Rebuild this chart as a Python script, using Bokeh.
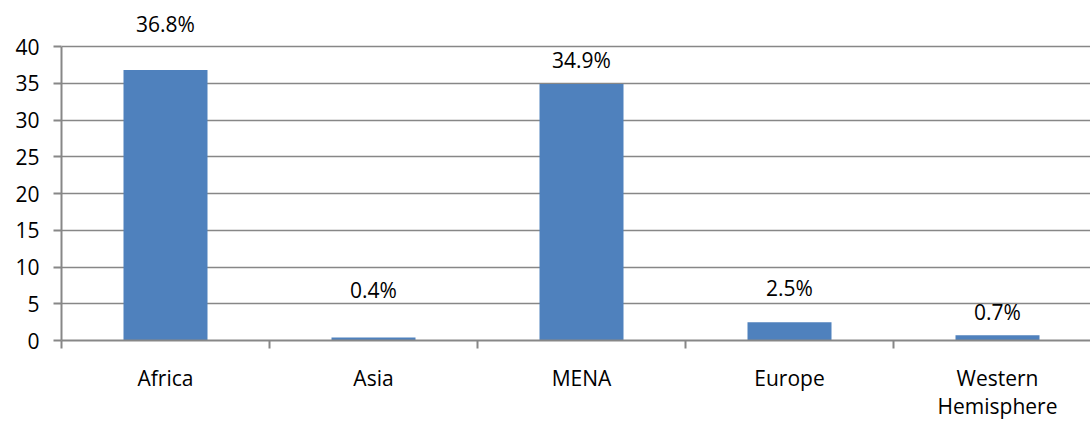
from bokeh.plotting import figure
from bokeh.models import Range1d, FixedTicker, ColumnDataSource
from bokeh.core.properties import value
from bokeh.embed import file_html
from bokeh.resources import INLINE

categories = ["Africa", "Asia", "MENA", "Europe", "Western\nHemisphere"]
values = [36.8, 0.4, 34.9, 2.5, 0.7]
labels = ["36.8%", "0.4%", "34.9%", "2.5%", "0.7%"]
label_y = [43.0, 6.9, 38.1, 7.2, 3.9]
y_ticks = [0, 5, 10, 15, 20, 25, 30, 35, 40]

FONT = "Open Sans"
GRAY = "#878787"

xc = [i + 0.5 for i in range(len(categories))]
src = ColumnDataSource(dict(x=xc, top=values, lab=labels, ly=label_y))

W, H = 1090, 425
left, bottom = 61, 85
frame_w = W - left
frame_h = H - bottom
slot = 208.0
px_per_unit = 294.0 / 40.0

p = figure(width=W, height=H, output_backend="svg", toolbar_location=None,
           x_range=Range1d(0, frame_w / slot), y_range=Range1d(0, frame_h / px_per_unit),
           min_border_left=left, min_border_right=0, min_border_top=0, min_border_bottom=bottom)
p.outline_line_color = None
p.background_fill_color = "white"
p.border_fill_color = "white"

p.vbar(x="x", top="top", width=84 / slot, bottom=0, source=src,
       fill_color="#4f81bd", line_color=None)

p.text(x="x", y="ly", text="lab", source=src, text_align="center", text_baseline="middle",
       text_font=value(FONT), text_font_size="21px", text_color="#000000")

# y axis
ya = p.yaxis[0]
ya.ticker = FixedTicker(ticks=y_ticks, minor_ticks=[])
ya.bounds = (0, 40)
ya.axis_line_color = GRAY
ya.axis_line_width = 2
ya.major_tick_line_color = GRAY
ya.major_tick_line_width = 2
ya.major_tick_out = 8
ya.major_tick_in = 0
ya.minor_tick_line_color = None
ya.major_label_standoff = 14
ya.major_label_text_font = FONT
ya.major_label_text_font_size = "21px"
ya.major_label_text_color = "#000000"

# x axis
xa = p.xaxis[0]
xa.ticker = FixedTicker(ticks=xc, minor_ticks=list(range(len(categories) + 1)))
xa.major_label_overrides = {x: c for x, c in zip(xc, categories)}
xa.axis_line_color = GRAY
xa.axis_line_width = 2
xa.major_tick_line_color = None
xa.minor_tick_line_color = GRAY
xa.minor_tick_line_width = 2
xa.minor_tick_out = 8
xa.minor_tick_in = 0
xa.major_label_standoff = 15
xa.major_label_text_font = FONT
xa.major_label_text_font_size = "21px"
xa.major_label_text_line_height = 1.0
xa.major_label_text_color = "#000000"

p.xgrid.grid_line_color = None
p.ygrid.ticker = FixedTicker(ticks=y_ticks)
p.ygrid.grid_line_color = GRAY
p.ygrid.grid_line_width = 1.5
p.ygrid.bounds = (0, 40)

open("out.html", "w").write(file_html(p, INLINE))
